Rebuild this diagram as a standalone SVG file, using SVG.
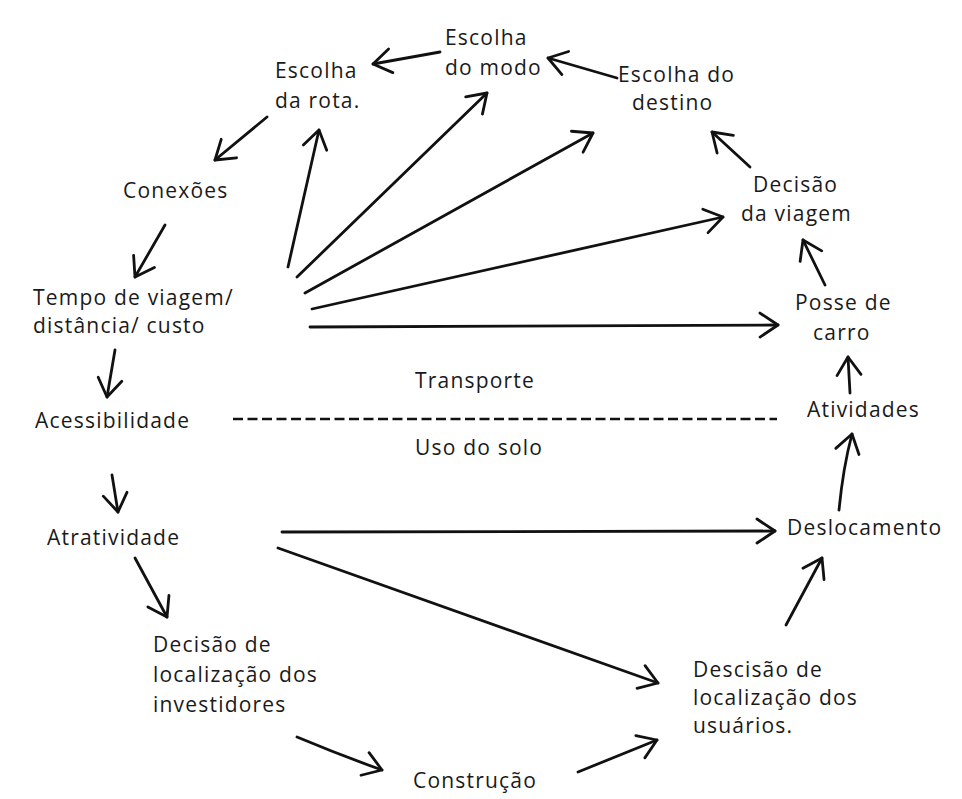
<svg xmlns="http://www.w3.org/2000/svg" width="962" height="799" viewBox="0 0 962 799">
<defs>
<marker id="ah" markerUnits="userSpaceOnUse" markerWidth="40" markerHeight="40" refX="0" refY="0" orient="auto" overflow="visible">
<path d="M -18 -12 L 0 0 L -18 12" fill="none" stroke="#111" stroke-width="2.8" stroke-linecap="round" stroke-linejoin="round"/>
</marker>
<style>
text{font-family:"Open Sans","Noto Sans","Liberation Sans",sans-serif;font-size:21px;fill:#1a1a1a;letter-spacing:1.2px}
.c{fill:none;stroke:#111;stroke-width:2.8;stroke-linecap:round}
.a{marker-end:url(#ah)}
.d{stroke-dasharray:10 4.5;stroke-linecap:butt;stroke-width:2.6}
</style>
</defs>
<rect width="962" height="799" fill="#ffffff"/>
<g id="connectors">
<path class="c a" d="M440 52 L373 64"/>
<path class="c a" d="M617 78 L548 58"/>
<path class="c a" d="M750 167 L712 132"/>
<path class="c a" d="M825 285 L803 240"/>
<path class="c a" d="M850 393 L848 357"/>
<path class="c a" d="M839 510 Q843 468 852 434"/>
<path class="c a" d="M786 625 L822 558"/>
<path class="c a" d="M578 772 Q615 757 657 740"/>
<path class="c a" d="M297 737 Q340 755 382 770"/>
<path class="c a" d="M135 558 L167 617"/>
<path class="c a" d="M112 475 L118 512"/>
<path class="c a" d="M115 350 L107 397"/>
<path class="c a" d="M165 225 L135 277"/>
<path class="c a" d="M267 117 L215 160"/>
<path class="c a" d="M288 267 L319 130"/>
<path class="c a" d="M297 277 L487 93"/>
<path class="c a" d="M305 293 L593 133"/>
<path class="c a" d="M312 309 L723 217"/>
<path class="c a" d="M310 327 L778 325"/>
<path class="c d" d="M233 419 L777 419"/>
<path class="c a" d="M282 532 L775 531"/>
<path class="c a" d="M278 548 L658 683"/>
</g>
<g id="escolha-rota"><text x="275" y="78">Escolha</text><text x="275" y="108">da rota.</text></g>
<g id="escolha-modo"><text x="445" y="45">Escolha</text><text x="445" y="75">do modo</text></g>
<g id="escolha-destino"><text x="618" y="82">Escolha do</text><text x="632" y="110">destino</text></g>
<g id="decisao-viagem"><text x="753" y="192">Decisão</text><text x="741" y="221">da viagem</text></g>
<g id="posse-carro"><text x="795" y="310">Posse de</text><text x="813" y="340">carro</text></g>
<g id="atividades"><text x="807" y="417">Atividades</text></g>
<g id="deslocamento"><text x="787" y="535">Deslocamento</text></g>
<g id="decisao-usuarios"><text x="693" y="677">Descisão de</text><text x="693" y="705">localização dos</text><text x="693" y="733">usuários.</text></g>
<g id="construcao"><text x="413" y="788">Construção</text></g>
<g id="decisao-investidores"><text x="153" y="652">Decisão de</text><text x="153" y="682">localização dos</text><text x="153" y="712">investidores</text></g>
<g id="atratividade"><text x="47" y="545">Atratividade</text></g>
<g id="acessibilidade"><text x="35" y="428">Acessibilidade</text></g>
<g id="tempo"><text x="33" y="305">Tempo de viagem/</text><text x="33" y="333">distância/ custo</text></g>
<g id="conexoes"><text x="123" y="198">Conexões</text></g>
<g id="transporte"><text x="415" y="388">Transporte</text></g>
<g id="uso-solo"><text x="415" y="455">Uso do solo</text></g>
</svg>
